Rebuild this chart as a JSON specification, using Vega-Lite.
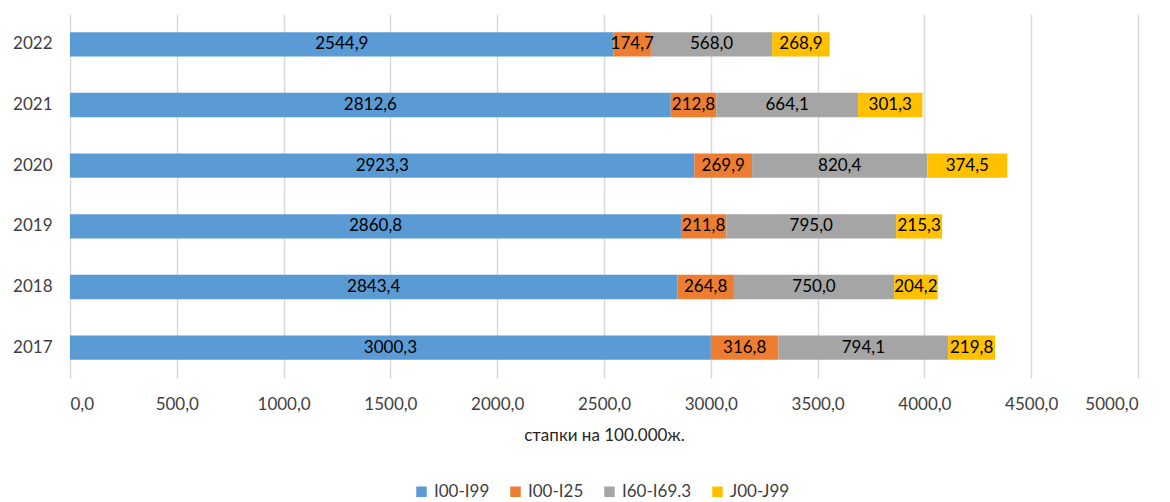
{
  "$schema": "https://vega.github.io/schema/vega-lite/v6.json",
  "autosize": {"type": "none"},
  "width": 1068,
  "height": 364,
  "padding": {"left": 70, "top": 14, "right": 32, "bottom": 124},
  "background": "white",
  "config": {
    "font": "Lato",
    "view": {"stroke": null},
    "locale": {"number": {"decimal": ",", "thousands": "", "grouping": [3], "currency": ["", ""]}}
  },
  "data": {
    "values": [
      {"year": "2022", "code": "I00-I99", "ord": 1, "value": 2544.9},
      {"year": "2022", "code": "I00-I25", "ord": 2, "value": 174.7},
      {"year": "2022", "code": "I60-I69.3", "ord": 3, "value": 568.0},
      {"year": "2022", "code": "J00-J99", "ord": 4, "value": 268.9},
      {"year": "2021", "code": "I00-I99", "ord": 1, "value": 2812.6},
      {"year": "2021", "code": "I00-I25", "ord": 2, "value": 212.8},
      {"year": "2021", "code": "I60-I69.3", "ord": 3, "value": 664.1},
      {"year": "2021", "code": "J00-J99", "ord": 4, "value": 301.3},
      {"year": "2020", "code": "I00-I99", "ord": 1, "value": 2923.3},
      {"year": "2020", "code": "I00-I25", "ord": 2, "value": 269.9},
      {"year": "2020", "code": "I60-I69.3", "ord": 3, "value": 820.4},
      {"year": "2020", "code": "J00-J99", "ord": 4, "value": 374.5},
      {"year": "2019", "code": "I00-I99", "ord": 1, "value": 2860.8},
      {"year": "2019", "code": "I00-I25", "ord": 2, "value": 211.8},
      {"year": "2019", "code": "I60-I69.3", "ord": 3, "value": 795.0},
      {"year": "2019", "code": "J00-J99", "ord": 4, "value": 215.3},
      {"year": "2018", "code": "I00-I99", "ord": 1, "value": 2843.4},
      {"year": "2018", "code": "I00-I25", "ord": 2, "value": 264.8},
      {"year": "2018", "code": "I60-I69.3", "ord": 3, "value": 750.0},
      {"year": "2018", "code": "J00-J99", "ord": 4, "value": 204.2},
      {"year": "2017", "code": "I00-I99", "ord": 1, "value": 3000.3},
      {"year": "2017", "code": "I00-I25", "ord": 2, "value": 316.8},
      {"year": "2017", "code": "I60-I69.3", "ord": 3, "value": 794.1},
      {"year": "2017", "code": "J00-J99", "ord": 4, "value": 219.8}
    ]
  },
  "transform": [
    {"stack": "value", "groupby": ["year"], "sort": [{"field": "ord", "order": "ascending"}], "as": ["v0", "v1"]},
    {"calculate": "(datum.v0 + datum.v1) / 2", "as": "mid"}
  ],
  "encoding": {
    "y": {
      "field": "year",
      "type": "nominal",
      "sort": "descending",
      "scale": {"paddingInner": 0.6, "paddingOuter": 0.3},
      "axis": {
        "title": null,
        "domain": false,
        "ticks": false,
        "labelFontSize": 17,
        "labelColor": "#404040",
        "labelPadding": 18
      }
    }
  },
  "layer": [
    {
      "mark": {"type": "bar"},
      "encoding": {
        "x": {
          "field": "v0",
          "type": "quantitative",
          "scale": {"domain": [0, 5000], "nice": false},
          "axis": {
            "title": "стапки на 100.000ж.",
            "titleFontSize": 17,
            "titleFontWeight": "normal",
            "titleColor": "#262626",
            "titlePadding": 15,
            "values": [0, 500, 1000, 1500, 2000, 2500, 3000, 3500, 4000, 4500, 5000],
            "format": ".1f",
            "labelFontSize": 17,
            "labelColor": "#404040",
            "labelPadding": 18,
            "domain": false,
            "ticks": false,
            "grid": true,
            "gridColor": "#D9D9D9",
            "gridWidth": 1.5
          }
        },
        "x2": {"field": "v1"},
        "color": {
          "field": "code",
          "type": "nominal",
          "scale": {
            "domain": ["I00-I99", "I00-I25", "I60-I69.3", "J00-J99"],
            "range": ["#5B9BD5", "#ED7D31", "#A5A5A5", "#FFC000"]
          },
          "legend": {
            "title": null,
            "orient": "none",
            "direction": "horizontal",
            "legendX": 343,
            "legendY": 469,
            "symbolType": "square",
            "symbolSize": 110,
            "symbolStrokeWidth": 0,
            "labelFontSize": 17,
            "labelColor": "#404040",
            "columnPadding": 17,
            "labelOffset": 4
          }
        }
      }
    },
    {
      "mark": {"type": "text", "fontSize": 17, "color": "#000000"},
      "encoding": {
        "x": {"field": "mid", "type": "quantitative"},
        "text": {"field": "value", "type": "quantitative", "format": ".1f"}
      }
    }
  ]
}
